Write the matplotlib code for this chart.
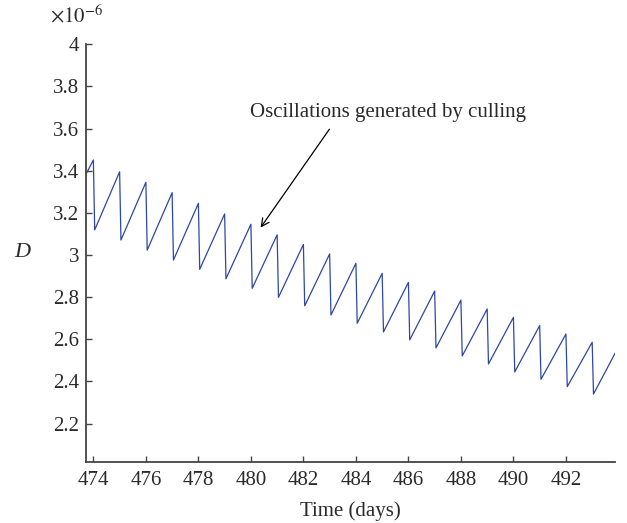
import matplotlib
matplotlib.use('Agg')
from matplotlib import pyplot as plt
from matplotlib.ticker import FormatStrFormatter

plt.rcParams['font.family'] = 'Liberation Serif'
plt.rcParams['mathtext.fontset'] = 'stix'

# culling days (peaks just before each cull), values in units of 1e-6
cull_days = [474, 475, 476, 477, 478, 479, 480, 481, 482, 483,
             484, 485, 486, 487, 488, 489, 490, 491, 492, 493]
peaks = [3.451, 3.395, 3.345, 3.296, 3.245, 3.195, 3.146, 3.096, 3.050, 3.005,
         2.961, 2.913, 2.870, 2.829, 2.786, 2.744, 2.704, 2.665, 2.625, 2.586]
troughs = [3.119, 3.071, 3.023, 2.976, 2.932, 2.887, 2.842, 2.799, 2.759, 2.715,
           2.676, 2.635, 2.597, 2.559, 2.521, 2.483, 2.445, 2.410, 2.375, 2.340]
t_start, d_start = 473.75, 3.391
t_end, d_end = 493.87, 2.533
cull_lag = 0.05  # days between peak and trough

t = [t_start]
D = [d_start]
for day, p, q in zip(cull_days, peaks, troughs):
    t += [day, day + cull_lag]
    D += [p, q]
t.append(t_end)
D.append(d_end)

txt_col = '#2a2a2a'

fig = plt.figure(figsize=(6.27, 5.23), dpi=100)
ax = fig.add_axes([0.1372, 0.1172, 0.8437, 0.7981])

ax.plot(t, D, color='#2c47a6', lw=0.9)

ax.set_xlim(473.72, 493.87)
ax.set_ylim(2.019, 4.0)
ax.set_xticks(range(474, 493, 2))
ax.set_yticks([2.2, 2.4, 2.6, 2.8, 3.0, 3.2, 3.4, 3.6, 3.8, 4.0])
ax.yaxis.set_major_formatter(FormatStrFormatter('%g'))

for s in ['top', 'right']:
    ax.spines[s].set_visible(False)
for s in ['left', 'bottom']:
    ax.spines[s].set_color('#444444')
    ax.spines[s].set_linewidth(1.3)

ax.tick_params(direction='in', length=4, width=1, color='#444444',
               labelsize=15, labelcolor=txt_col)
ax.tick_params(axis='y', pad=5)
ax.tick_params(axis='x', pad=6.5)

ax.set_xlabel('Time (days)', fontsize=15, color=txt_col, labelpad=8)
fig.text(22 / 627, 1 - 253 / 523, 'D', fontsize=16, style='italic',
         ha='center', va='center', color=txt_col)
fig.text(50 / 627, 1 - 16 / 523, r'$\times 10^{-6}$', fontsize=15,
         ha='left', va='center', color=txt_col)

# annotation text and arrow
ax.text(485.22, 3.675, 'Oscillations generated by culling', ha='center',
        va='center', fontsize=15, color=txt_col)
ax.annotate('', xy=(480.37, 3.13), xytext=(482.99, 3.597),
            arrowprops=dict(arrowstyle='->', color='black', lw=0.9,
                            shrinkA=0, shrinkB=0, mutation_scale=14))

fig.savefig('out.png', dpi=100)
